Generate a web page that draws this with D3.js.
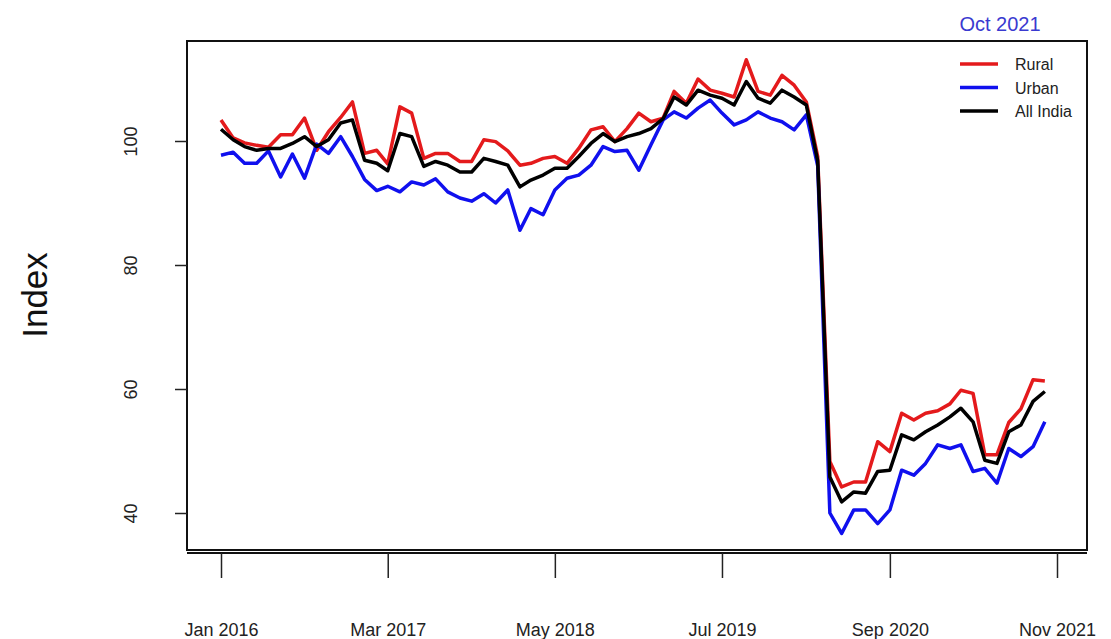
<!DOCTYPE html>
<html>
<head>
<meta charset="utf-8">
<script src="https://cdn.jsdelivr.net/npm/d3@7"></script>
<style>
  body { margin: 0; background: #fff; }
  svg text { font-family: "Liberation Sans", Arial, sans-serif; }
</style>
</head>
<body>
<div id="chart"></div>
<script>
// Monthly index, Jan 2016 .. Oct 2021
var months = d3.range(70).map(function(i) { return new Date(2016, i, 1); });

var rural = [103.4, 100.5, 99.7, 99.3, 99.0, 101.0, 101.0, 103.7, 98.5, 101.5,
  103.8, 106.3, 98.0, 98.5, 96.3, 105.5, 104.5, 97.2, 98.0, 98.0,
  96.7, 96.7, 100.2, 99.9, 98.4, 96.1, 96.4, 97.2, 97.5, 96.4,
  98.8, 101.8, 102.3, 99.9, 102.0, 104.5, 103.1, 103.7, 108.0, 106.1,
  110.0, 108.2, 107.7, 107.1, 113.1, 108.0, 107.4, 110.6, 109.0, 106.3,
  97.5, 48.3, 44.2, 45.0, 45.0, 51.5, 49.9, 56.1, 55.0, 56.1,
  56.5, 57.6, 59.8, 59.3, 49.4, 49.4, 54.6, 56.8, 61.5, 61.3];

var urban = [97.7, 98.2, 96.4, 96.4, 98.4, 94.2, 97.9, 94.0, 99.5, 98.0,
  100.7, 97.5, 93.8, 92.0, 92.7, 91.8, 93.4, 92.9, 93.9, 91.8,
  90.8, 90.3, 91.5, 90.0, 92.1, 85.6, 89.1, 88.1, 92.1, 94.0,
  94.5, 96.1, 99.1, 98.3, 98.5, 95.3, 99.4, 103.4, 104.7, 103.7,
  105.3, 106.6, 104.5, 102.6, 103.4, 104.7, 103.7, 103.1, 101.8, 104.2,
  96.0, 40.0, 36.7, 40.5, 40.5, 38.3, 40.5, 46.9, 46.1, 48.0,
  51.0, 50.4, 51.0, 46.7, 47.2, 44.8, 50.4, 49.1, 50.7, 54.7];

var allIndia = [101.9, 100.2, 99.1, 98.5, 98.8, 98.8, 99.6, 100.7, 99.1, 100.2,
  102.9, 103.4, 96.9, 96.4, 95.2, 101.2, 100.7, 95.9, 96.7, 96.1,
  95.0, 95.0, 97.2, 96.7, 96.1, 92.6, 93.7, 94.5, 95.6, 95.6,
  97.5, 99.6, 101.2, 99.9, 100.7, 101.2, 102.0, 103.6, 107.1, 105.8,
  108.2, 107.4, 106.9, 105.8, 109.6, 106.9, 106.1, 108.2, 107.1, 105.8,
  96.8, 45.8, 41.8, 43.4, 43.2, 46.7, 46.9, 52.6, 51.8, 53.1,
  54.2, 55.5, 56.9, 54.7, 48.5, 48.0, 53.1, 54.2, 58.0, 59.6];

var xTickDates = [new Date(2016, 0, 1), new Date(2017, 2, 1), new Date(2018, 4, 1),
  new Date(2019, 6, 1), new Date(2020, 8, 1), new Date(2021, 10, 1)];
var xTickLabels = ["Jan 2016", "Mar 2017", "May 2018", "Jul 2019", "Sep 2020", "Nov 2021"];
var yTicks = [40, 60, 80, 100];

var series = [
  { name: "Rural", values: rural, color: "#e41a1c" },
  { name: "Urban", values: urban, color: "#1010ee" },
  { name: "All India", values: allIndia, color: "#000000" }
];

var svgWidth = 1111;
var svgHeight = 639;

// plot box
var box = { left: 187, right: 1087, top: 41, bottom: 550 };

var svg = d3.select("#chart")
  .append("svg")
  .attr("width", svgWidth)
  .attr("height", svgHeight);

// x: Jan 2016 -> 221px, Nov 2021 -> 1057px
var xScale = d3.scaleTime()
  .domain([new Date(2016, 0, 1), new Date(2021, 10, 1)])
  .range([221, 1057]);

var yScale = d3.scaleLinear()
  .domain([40, 100])
  .range([513, 141]);

// clip to box
svg.append("clipPath")
  .attr("id", "clip")
  .append("rect")
  .attr("x", box.left)
  .attr("y", box.top)
  .attr("width", box.right - box.left)
  .attr("height", box.bottom - box.top);

var line = d3.line()
  .x(function(d, i) { return xScale(months[i]); })
  .y(function(d) { return yScale(d); });

var linesGroup = svg.append("g").attr("clip-path", "url(#clip)");

series.forEach(function(s) {
  linesGroup.append("path")
    .datum(s.values)
    .attr("fill", "none")
    .attr("stroke", s.color)
    .attr("stroke-width", 3.5)
    .attr("stroke-linejoin", "round")
    .attr("d", line);
});

// box
svg.append("rect")
  .attr("x", box.left)
  .attr("y", box.top)
  .attr("width", box.right - box.left)
  .attr("height", box.bottom - box.top)
  .attr("fill", "none")
  .attr("stroke", "#111")
  .attr("stroke-width", 2);

// x axis
var bottomAxis = d3.axisBottom(xScale)
  .tickValues(xTickDates)
  .tickSize(25)
  .tickSizeOuter(0)
  .tickFormat(function(d, i) { return xTickLabels[i]; });

var xAxis = svg.append("g")
  .attr("transform", "translate(0," + (box.bottom + 3) + ")")
  .call(bottomAxis);

xAxis.select(".domain")
  .attr("stroke", "#111")
  .attr("stroke-width", 2)
  .attr("d", "M" + box.left + ",0H" + box.right);
xAxis.selectAll(".tick line").attr("stroke", "#222").attr("stroke-width", 1.5);
xAxis.selectAll(".tick text")
  .attr("y", 83)
  .attr("dy", "0")
  .attr("font-size", 18)
  .attr("fill", "#222")
  .style("font-family", "'Liberation Sans', Arial, sans-serif");

// y axis
var leftAxis = d3.axisLeft(yScale)
  .tickValues(yTicks)
  .tickSize(12)
  .tickSizeOuter(0);

var yAxis = svg.append("g")
  .attr("transform", "translate(" + box.left + ",0)")
  .call(leftAxis);

yAxis.select(".domain").remove();
yAxis.selectAll(".tick line").attr("stroke", "#222").attr("stroke-width", 1.5);
yAxis.selectAll(".tick text")
  .attr("x", 0)
  .attr("dy", 0)
  .attr("transform", "translate(-50,0) rotate(-90)")
  .attr("text-anchor", "middle")
  .attr("font-size", 18)
  .attr("fill", "#222")
  .style("font-family", "'Liberation Sans', Arial, sans-serif");

// y label
svg.append("text")
  .attr("transform", "translate(47," + 295 + ") rotate(-90)")
  .attr("text-anchor", "middle")
  .attr("font-size", 35)
  .attr("fill", "#111")
  .text("Index");

// date label
svg.append("text")
  .attr("x", 1000)
  .attr("y", 31)
  .attr("text-anchor", "middle")
  .attr("font-size", 20)
  .attr("fill", "#3a3ad0")
  .text("Oct 2021");

// legend
var legend = svg.append("g").attr("transform", "translate(960,64)");
series.forEach(function(s, i) {
  legend.append("line")
    .attr("x1", 0).attr("x2", 38)
    .attr("y1", i * 23.5).attr("y2", i * 23.5)
    .attr("stroke", s.color)
    .attr("stroke-width", 3.5);
  legend.append("text")
    .attr("x", 55)
    .attr("y", i * 23.5 + 6)
    .attr("font-size", 16)
    .attr("fill", "#222")
    .text(s.name);
});
</script>
</body>
</html>
